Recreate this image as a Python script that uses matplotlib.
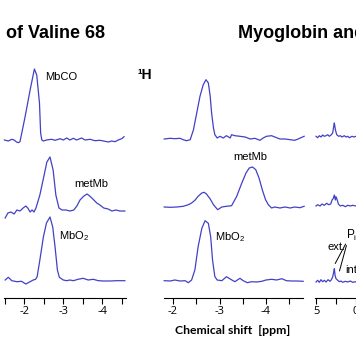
import matplotlib
matplotlib.use("Agg")
import numpy as np
import matplotlib.pyplot as plt

# --- data (ppm, intensity in a.u.) ---
# left panel, 1H, valine 68 region
a_mbco_ppm = [-1.49, -1.59, -1.68, -1.74, -1.80, -1.85, -1.89, -2.02, -2.15, -2.26, -2.32, -2.39,
              -2.42, -2.45, -2.49, -2.57, -2.70, -2.79, -2.92, -3.00, -3.09, -3.17, -3.26, -3.34,
              -3.47, -3.56, -3.69, -3.81, -3.94, -4.07, -4.16, -4.24, -4.33, -4.41, -4.50, -4.56]
a_mbco_int = [1, 0, 1.7, 1, -1, -1.7, -0.7, 24, 51, 72, 66, 38, 8, 1, 0, 1, 1.7, 0.7, 2.3, 1, 3, 1,
              2.7, 1, 3, 1, 1.7, 0.3, 0.7, -0.3, -1, 0, -0.7, 1, 2.3, 4.3]

a_met_ppm = [-1.51, -1.58, -1.66, -1.74, -1.81, -1.89, -1.97, -2.04, -2.09, -2.15, -2.20, -2.25,
             -2.30, -2.40, -2.51, -2.58, -2.66, -2.74, -2.81, -2.89, -2.97, -3.07, -3.17, -3.27,
             -3.35, -3.43, -3.53, -3.61, -3.68, -3.76, -3.86, -3.94, -4.04, -4.15, -4.25, -4.35,
             -4.45, -4.58]
a_met_int = [-7, -2, -1, -3, 1, 0, 3, 5, 3, -1, 1, -1, 3, 16, 36, 49, 54, 41, 16, 3, 1, 1, 0, 1,
             5, 11, 15, 17, 15, 12, 8, 6, 3, 2, 0, 1, 0, 0]

a_o2_ppm = [-1.51, -1.59, -1.68, -1.81, -1.93, -2.04, -2.15, -2.23, -2.29, -2.33, -2.40, -2.49,
            -2.57, -2.66, -2.73, -2.79, -2.85, -2.90, -3.00, -3.09, -3.17, -3.26, -3.38, -3.51,
            -3.64, -3.77, -3.90, -4.03, -4.20, -4.37, -4.58]
a_o2_int = [1, 3.7, 0.3, -0.7, -0.3, -3, -0.7, 1, 1.7, 4.3, 21, 44, 58, 64, 54, 34, 11, 3.7, 1,
            0.3, 1, 0.3, 1.7, 2.7, 1, 1.7, 0.3, 0, 0, 0.3, 0.3]

# middle panel, 1H
b_mbco_ppm = [-1.81, -1.94, -2.04, -2.15, -2.22, -2.29, -2.37, -2.44, -2.51, -2.58, -2.65, -2.71,
              -2.76, -2.80, -2.83, -2.87, -2.90, -2.95, -3.01, -3.08, -3.15, -3.23, -3.26, -3.33,
              -3.44, -3.55, -3.66, -3.76, -3.87, -3.94, -4.01, -4.12, -4.19, -4.30, -4.41, -4.52,
              -4.62, -4.69, -4.82]
b_mbco_int = [0, 0.7, 0.3, 0.7, -0.7, -1.7, -0.7, 9.3, 26, 42.7, 54.3, 59.3, 56, 42.7, 26, 11,
              4.3, 1, 2.7, 1, 3.3, 1, 4.3, 3.3, 2.7, 2, 0, 0.7, -1.3, 1, 2.7, 3.3, 2, 0, 0, -0.7,
              -1.3, 0, 2.7]

b_met_ppm = [-1.81, -1.94, -2.08, -2.22, -2.33, -2.40, -2.47, -2.54, -2.62, -2.67, -2.72, -2.80,
             -2.87, -2.96, -3.05, -3.15, -3.26, -3.37, -3.48, -3.57, -3.64, -3.71, -3.78, -3.85,
             -3.92, -3.99, -4.05, -4.12, -4.19, -4.30, -4.41, -4.52, -4.62, -4.73, -4.82]
b_met_int = [0, -0.3, 0, 0.7, 2.3, 4, 6.7, 10.7, 14, 14.7, 13, 8, 2.3, -2.7, 0, 0.7, 1.3, 10.7,
             24, 34, 39, 40, 37.3, 29, 17.3, 7.3, 2.3, -1, 0, -1, 0, -1, 0, -0.7, 0.7]

b_o2_ppm = [-1.81, -1.94, -2.04, -2.15, -2.26, -2.33, -2.40, -2.47, -2.54, -2.62, -2.69, -2.76,
            -2.81, -2.85, -2.90, -2.95, -3.05, -3.15, -3.24, -3.33, -3.44, -3.51, -3.60, -3.69,
            -3.80, -3.91, -4.00, -4.12, -4.23, -4.34, -4.44, -4.55, -4.66, -4.80]
b_o2_int = [0.3, 0, 1, 0, 0.3, -1.7, 1, 11, 34.3, 52.7, 60.3, 57.7, 44.3, 21, 4.3, 1, 0.3, 4.3,
            1.7, -0.7, 2.7, 0.3, -1.7, -0.7, -1, -0.3, 1, 1.7, 1, 2.3, 0.3, 0, 0, -0.3]

# right panel, 31P (cut off at the right edge)
c_mbco_ppm = [5.0, 4.79, 4.58, 4.37, 4.16, 3.95, 3.73, 3.52, 3.31, 3.10, 2.89, 2.76, 2.68, 2.55,
              2.38, 2.13, 1.92, 1.71, 1.42, 1.20, 0.99, 0.78, 0.44, 0.15, -0.06]
c_mbco_int = [0.7, -0.7, 1.3, 0, 2, 0.7, 1.3, 2.3, 0.7, 2, 4, 10.7, 14, 7.3, 2.3, 0.7, 1.3, 0,
              1.3, 0, 0.7, -0.7, 0.7, 0, 0.7]

c_met_ppm = [5.0, 4.79, 4.49, 4.24, 3.95, 3.65, 3.40, 3.14, 2.97, 2.81, 2.68, 2.55, 2.47, 2.34,
             2.17, 1.92, 1.62, 1.29, 0.99, 0.66, 0.35, -0.06]
c_met_int = [0, 1.3, 0, 2, 0.7, 2.7, 1.3, 2, 6, 7.7, 11, 6, 9.3, 6.7, 2, 0, 0.7, -0.7, 0.7, 0,
             0.7, 0]

c_o2_ppm = [5.0, 4.79, 4.58, 4.37, 4.16, 3.95, 3.73, 3.48, 3.23, 3.06, 2.89, 2.76, 2.68, 2.59,
            2.47, 2.25, 2.05, 1.84, 1.62, 1.29, 0.99, 0.66, 0.35, -0.06]
c_o2_int = [0, 1.7, -0.3, 2.3, 0.3, 1.7, 0, 2.3, 0.7, 2.3, 5, 10, 13.3, 6.7, 3.3, 1.7, 0.3, 1,
            -0.3, 0.7, 0, 1, -0.3, 0.3]

W, H = 356, 364
LINE = "#4141c6"

plt.rcParams["axes.unicode_minus"] = False
plt.rcParams["mathtext.fontset"] = "custom"
plt.rcParams["mathtext.rm"] = "Liberation Sans"
plt.rcParams["mathtext.it"] = "Liberation Sans:italic"

fig = plt.figure(figsize=(W / 100, H / 100), dpi=100)


def px_axes(x0, x1, y0=60, y1=298):
    # axes placed by pixel box (top-left origin)
    return fig.add_axes([x0 / W, 1 - y1 / H, (x1 - x0) / W, (y1 - y0) / H])


def px_text(x, y, s, **kw):
    return fig.text(x / W, 1 - y / H, s, **kw)


def style_axis(ax, xlim, major, minor):
    ax.set_xlim(*xlim)
    ax.set_ylim(0, 238)
    for side in ("top", "left", "right"):
        ax.spines[side].set_visible(False)
    ax.spines["bottom"].set_linewidth(0.8)
    ax.set_yticks([])
    ax.set_xticks(major)
    ax.set_xticks(minor, minor=True)
    ax.set_xticklabels([f"{v:g}" for v in major], fontfamily="Open Sans", fontsize=8)
    ax.tick_params(axis="x", which="both", direction="out", length=4, width=0.8, pad=1.5)
    ax.patch.set_visible(False)


def draw_traces(ax, traces, offsets):
    for (ppm, inten), off in zip(traces, offsets):
        ax.plot(ppm, np.asarray(inten) + off, color=LINE, lw=0.9, clip_on=False)


# left panel
ax_a = px_axes(4, 126)
style_axis(ax_a, (-1.48, -4.61), [-2, -3, -4], [-1.5, -2.5, -3.5, -4.5])
draw_traces(ax_a, [(a_mbco_ppm, a_mbco_int), (a_met_ppm, a_met_int), (a_o2_ppm, a_o2_int)],
            [157, 87, 17])

# middle panel
ax_b = px_axes(164, 303)
style_axis(ax_b, (-1.806, -4.796), [-2, -3, -4], [-2.5, -3.5, -4.5])
draw_traces(ax_b, [(b_mbco_ppm, b_mbco_int), (b_met_ppm, b_met_int), (b_o2_ppm, b_o2_int)],
            [159, 91, 17])

# right panel (runs off the figure edge, as in the cropped original)
ax_c = px_axes(315, 360)
style_axis(ax_c, (5.13, -0.57), [5, 0], [2.5])
draw_traces(ax_c, [(c_mbco_ppm, c_mbco_int), (c_met_ppm, c_met_int), (c_o2_ppm, c_o2_int)],
            [161, 92, 16])

# Pi leader lines
ax_c.annotate("", xy=(2.57, 34.5), xytext=(1.25, 54),
              arrowprops=dict(arrowstyle="-", color="black", lw=0.7, shrinkA=0, shrinkB=0))
ax_c.annotate("", xy=(2.03, 27), xytext=(1.15, 52.5),
              arrowprops=dict(arrowstyle="-", color="black", lw=0.7, shrinkA=0, shrinkB=0))

# titles and labels
px_text(6, 33, "of Valine 68", fontsize=13, fontweight="bold", family="Liberation Sans",
        ha="left", va="center")
px_text(238, 33, "Myoglobin and", fontsize=13, fontweight="bold", family="Liberation Sans",
        ha="left", va="center")
px_text(138, 75, "¹H", fontsize=10, fontweight="bold", family="Liberation Sans",
        ha="left", va="center")

lab = dict(fontsize=8, family="Liberation Sans", ha="left", va="center")
px_text(45, 77, "MbCO", **lab)
px_text(74, 184, "metMb", **lab)
px_text(59, 236, "MbO$_2$", **lab)
px_text(233, 157, "metMb", **lab)
px_text(215, 237, "MbO$_2$", **lab)
px_text(346.5, 235, "P$_\\mathrm{i}$", fontsize=8.5, family="Liberation Sans", ha="left",
        va="center")
px_text(327, 246.5, "ext.", **lab)
px_text(345, 270, "int", **lab)

px_text(233, 330, "Chemical shift  [ppm]", fontsize=8.8, fontweight="bold", family="Lato",
        ha="center", va="center")

fig.savefig("out.png", dpi=100)
